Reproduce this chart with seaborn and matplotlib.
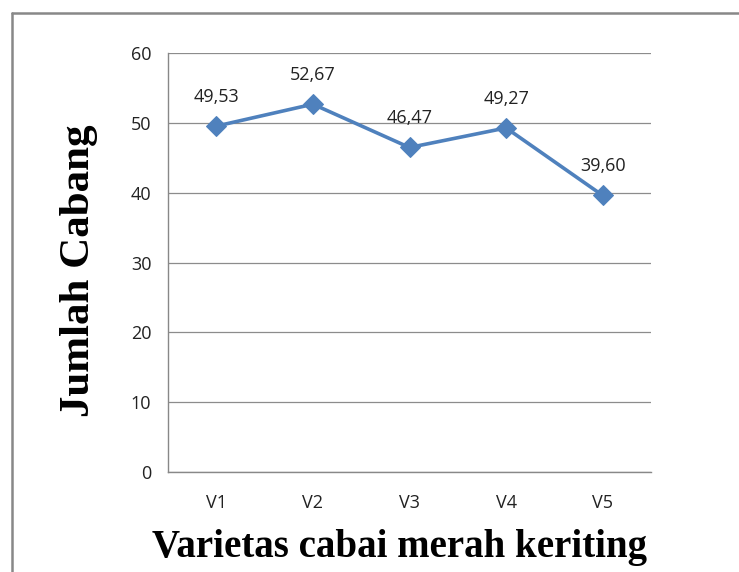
import matplotlib
matplotlib.use("Agg")
import matplotlib.pyplot as plt
import seaborn as sns
import pandas as pd
from matplotlib.lines import Line2D

varietas = ["V1", "V2", "V3", "V4", "V5"]
jumlah_cabang = [49.53, 52.67, 46.47, 49.27, 39.60]
label_nilai = ["49,53", "52,67", "46,47", "49,27", "39,60"]
y_ticks = [0, 10, 20, 30, 40, 50, 60]

df = pd.DataFrame({"Varietas": varietas, "Jumlah": jumlah_cabang})

sns.set_style("white")
plt.rcParams["font.family"] = ["Open Sans", "DejaVu Sans"]

fig = plt.figure(figsize=(7.39, 5.72), dpi=100)
ax = fig.add_axes([168 / 739, 100 / 572, 483 / 739, 419 / 572])

sns.lineplot(data=df, x="Varietas", y="Jumlah", marker="D", markersize=10,
             color="#4F81BD", linewidth=2.6, markeredgecolor="#4F81BD", ax=ax)

for i, (v, lab) in enumerate(zip(jumlah_cabang, label_nilai)):
    ax.annotate(lab, (i, v), xytext=(0, 21), textcoords="offset points",
                ha="center", va="center", fontsize=13, color="#222222")

ax.set_xlim(-0.5, 4.5)
ax.set_ylim(0, 60)
ax.set_yticks(y_ticks)
ax.set_xticks(range(len(varietas)))
ax.set_xticklabels(varietas)
ax.set_xticks([i - 0.5 for i in range(len(varietas) + 1)], minor=True)
ax.tick_params(axis="x", which="major", length=0, pad=16, labelsize=13, colors="#222222")
ax.tick_params(axis="x", which="minor", length=7, width=1, color="#888888", direction="out")
ax.tick_params(axis="y", length=6, width=1, color="#888888", pad=6, labelsize=13,
               labelcolor="#222222", direction="out")
ax.grid(axis="y", color="#8c8c8c", linewidth=0.9)
ax.set_axisbelow(True)

for s in ["top", "right"]:
    ax.spines[s].set_visible(False)
for s in ["left", "bottom"]:
    ax.spines[s].set_color("#888888")
    ax.spines[s].set_linewidth(1)

ax.set_xlabel("Varietas cabai merah keriting", fontsize=28, fontweight="bold",
              family="Liberation Serif", color="black")
ax.set_ylabel("Jumlah Cabang", fontsize=31, fontweight="bold",
              family="Liberation Serif", color="black")
ax.xaxis.set_label_coords(0.48, -0.135)
ax.yaxis.set_label_coords(-0.145, 0.48)

# chart border (only top and left visible in the crop)
fig.add_artist(Line2D([12 / 739, 12 / 739], [0, 1 - 13 / 572], transform=fig.transFigure,
                      color="#888888", linewidth=1.8))
fig.add_artist(Line2D([12 / 739, 1], [1 - 13 / 572, 1 - 13 / 572], transform=fig.transFigure,
                      color="#888888", linewidth=1.8))

fig.savefig("out.png", dpi=100)
